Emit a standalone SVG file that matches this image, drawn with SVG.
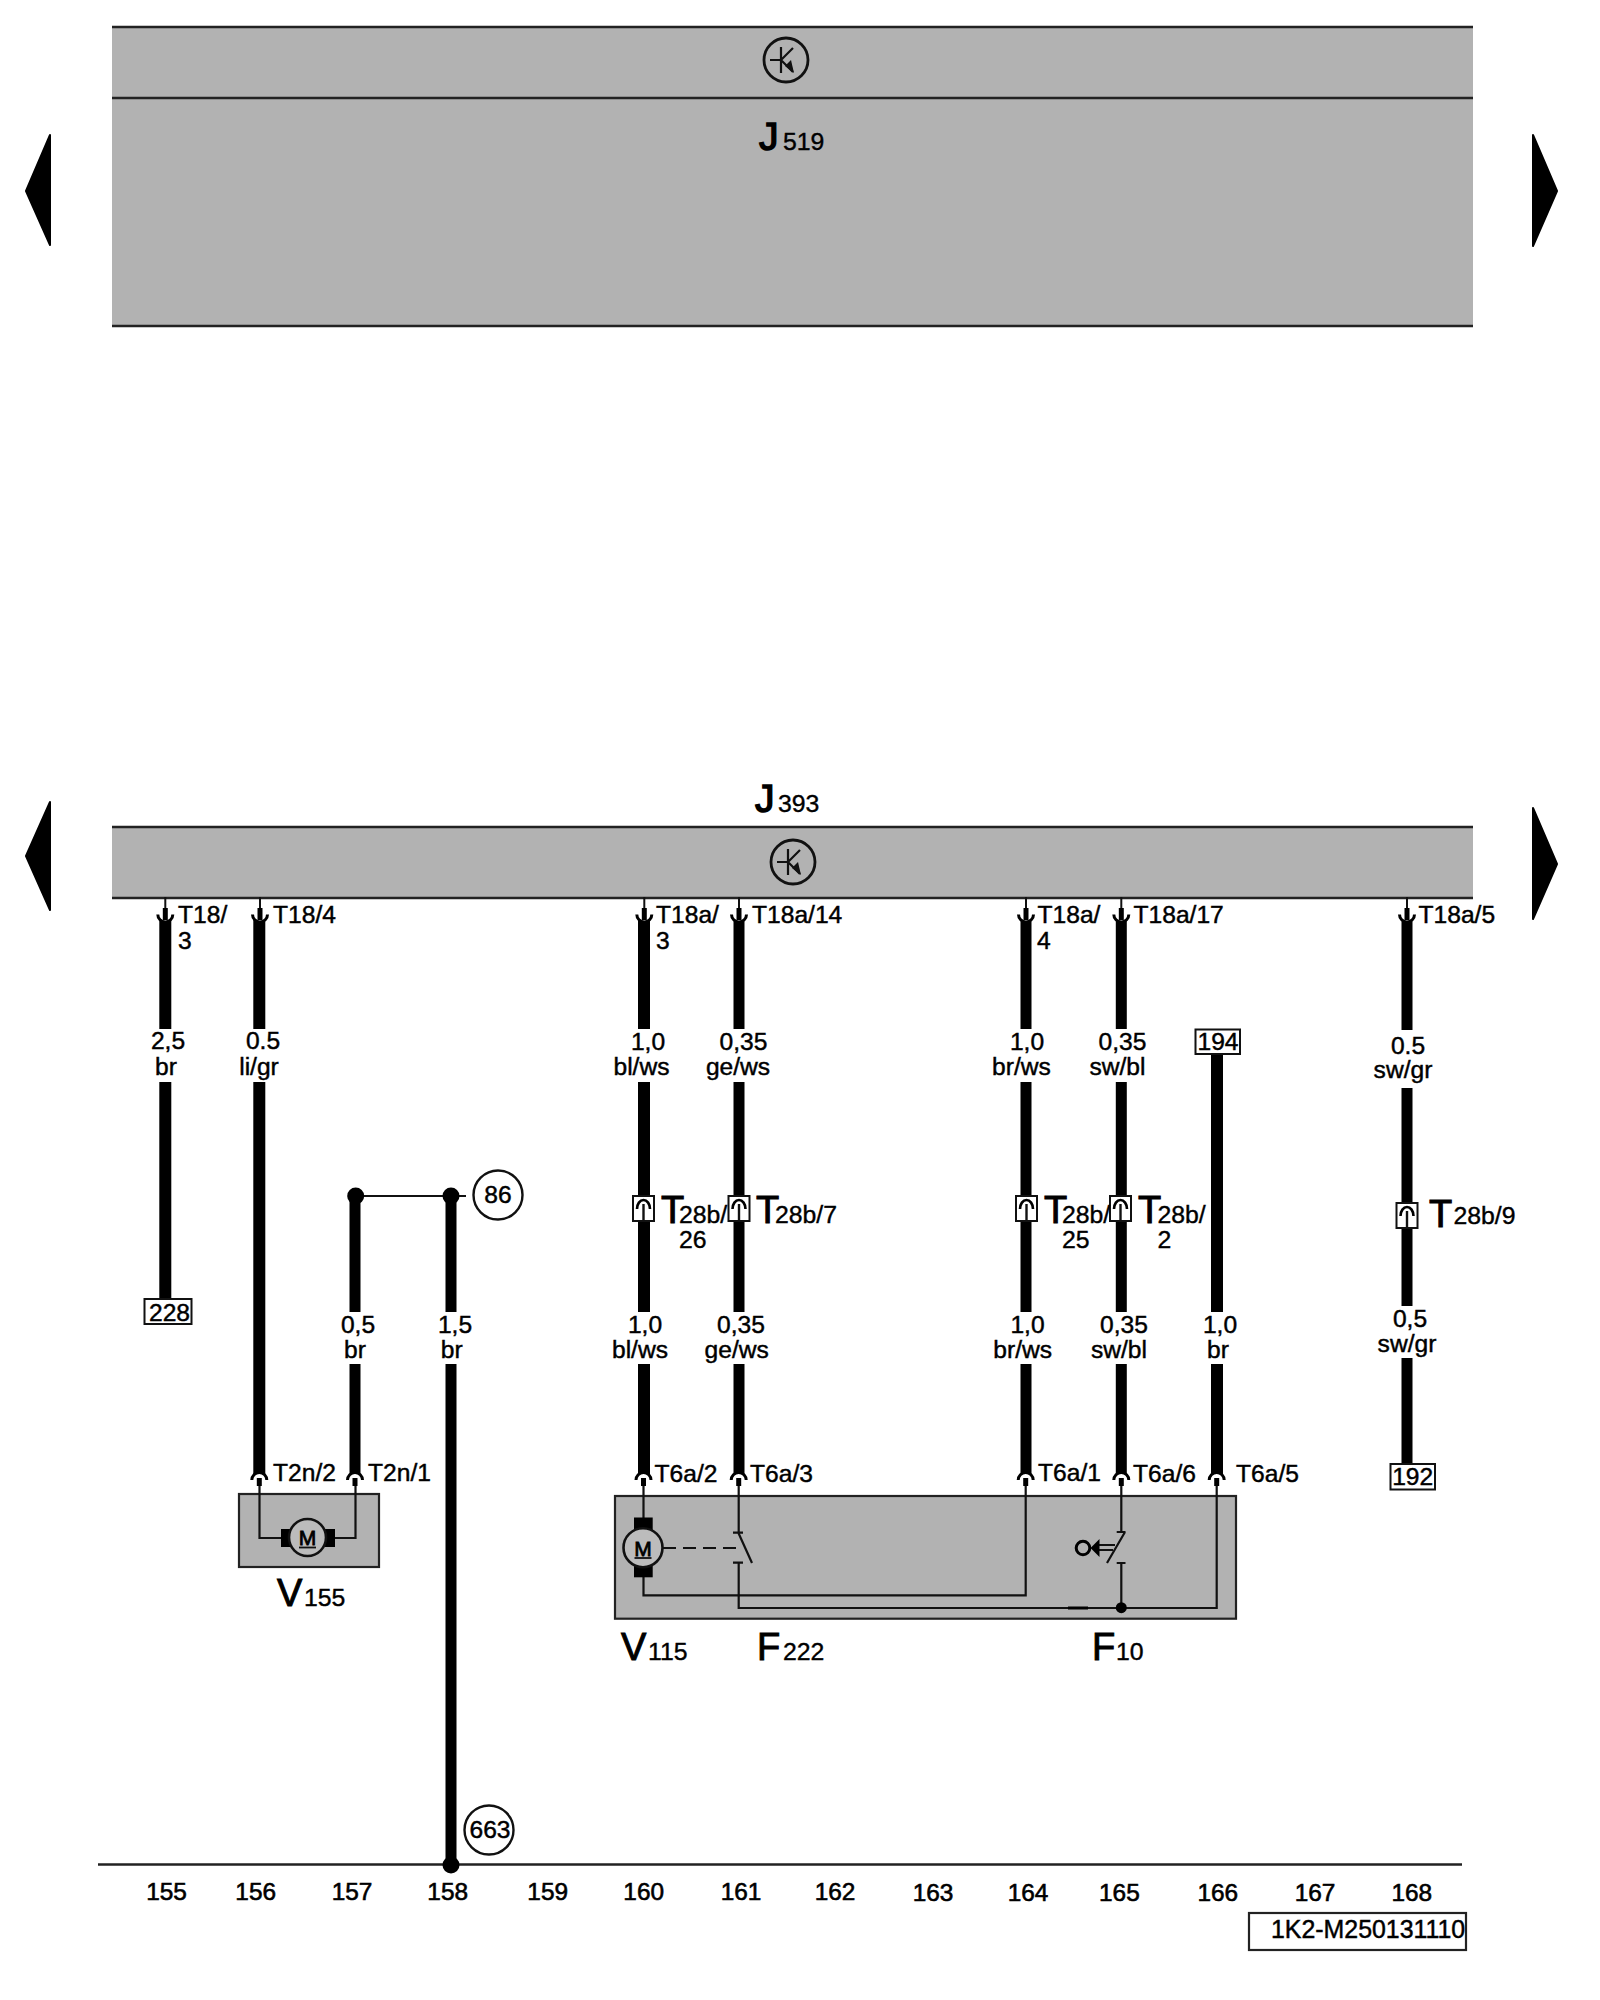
<svg xmlns="http://www.w3.org/2000/svg" width="1600" height="2000" viewBox="0 0 1600 2000">
<style>
text{font-family:"Liberation Sans",Arial,sans-serif;fill:#000;stroke:#000;stroke-width:.45}
.l{font-size:24.6px}
.b{font-size:38px;stroke-width:1}
.j{font-size:39px;stroke-width:1.5}
.s{font-size:24.8px;stroke-width:.4}
.n{font-size:24.4px;stroke-width:.6}
.band{fill:#b2b2b2}
.edge{stroke:#222;stroke-width:2.5;fill:none}
.box{fill:#b2b2b2;stroke:#222;stroke-width:2.2}
.tag{fill:#fff;stroke:#111;stroke-width:2}
.w12{stroke:#000;stroke-width:12;fill:none}
.w11{stroke:#000;stroke-width:11;fill:none}
.thin{stroke:#111;stroke-width:2.2;fill:none}
.mot{fill:#bcbcbc;stroke:#111;stroke-width:2.6}
.tri{fill:#000;stroke:#000;stroke-width:2;stroke-linejoin:round}
</style>
<defs>
<g id="tr">
<circle r="22" fill="none" stroke="#111" stroke-width="2.8"/>
<path d="M-16 0H-5M-5-13V13M-5 0L7-12M-5 0L7 12" fill="none" stroke="#111" stroke-width="2.2"/>
<path d="M8 13L-1 6L5 0Z" fill="#111"/>
</g>
<g id="pt">
<path d="M-7.500-3.500A7.500 7.500 0 0 0 7.500-3.500" fill="#fff" stroke="#000" stroke-width="3"/>
<path d="M0-21V-10" stroke="#111" stroke-width="2"/>
<path d="M0-10V2" stroke="#000" stroke-width="5"/>
</g>
<g id="pb">
<path d="M-7.500 6A7.500 7.500 0 0 1 7.500 6" fill="#fff" stroke="#000" stroke-width="3"/>
<path d="M0 4V12" stroke="#000" stroke-width="5"/>
</g>
<g id="cn">
<rect x="-10.500" y="0" width="21" height="25" fill="#fff" stroke="#111" stroke-width="2"/>
<path d="M-6.500 13A6.500 9 0 0 1 6.500 13" fill="none" stroke="#000" stroke-width="2.600"/>
<path d="M0 8V25" stroke="#111" stroke-width="2.400"/>
</g>
</defs>
<rect width="1600" height="2000" fill="#fff"/>

<g id="J519">
<rect class="band" x="112" y="27" width="1361" height="299"/>
<path class="edge" d="M112 27H1473M112 98H1473M112 326H1473"/>
<use href="#tr" x="786" y="60"/>
<text class="j" x="759" y="150">J</text><text class="s" x="783" y="150">519</text>
</g>
<g id="J393">
<rect class="band" x="112" y="827" width="1361" height="71"/>
<path class="edge" d="M112 827H1473M112 898H1473"/>
<use href="#tr" x="793" y="862"/>
<text class="j" x="755" y="812">J</text><text class="s" x="778" y="812">393</text>
</g>
<g id="page-arrows">
<polygon class="tri" points="50,135 26,191 50,245"/>
<polygon class="tri" points="50,802 26,856 50,910"/>
<polygon class="tri" points="1533,135 1557,191 1533,246"/>
<polygon class="tri" points="1533,808 1557,864 1533,919"/>
</g>

<g id="connectors">
<path class="w12" d="M165.300 918V1029M165.300 1082V1299"/>
<path class="w12" d="M259.300 918V1029M259.300 1082V1476"/>
<path class="w11" d="M355 1196V1312M355 1364V1476"/>
<path class="w11" d="M451 1196V1312M451 1364V1864"/>
<path class="w12" d="M644 918V1029M644 1082V1312M644 1364V1476"/>
<path class="w11" d="M739 918V1029M739 1082V1312M739 1364V1476"/>
<path class="w11" d="M1026 918V1029M1026 1082V1312M1026 1364V1476"/>
<path class="w11" d="M1121.300 918V1029M1121.300 1082V1312M1121.300 1364V1476"/>
<path class="w12" d="M1217 1054V1312M1217 1364V1476"/>
<path class="w11" d="M1407 918V1030M1407 1088V1306M1407 1358V1464"/>
<path class="thin" d="M355.500 1196H466"/>
<path class="edge" d="M98 1864.500H1462"/>
<circle cx="355.700" cy="1196" r="8.500"/>
<circle cx="451" cy="1196" r="8.500"/>
<circle cx="451" cy="1865" r="8.500"/>
</g>

<g id="pins-top">
<use href="#pt" x="165.300" y="918"/><use href="#pt" x="260" y="918"/>
<use href="#pt" x="644.300" y="918"/><use href="#pt" x="739" y="918"/>
<use href="#pt" x="1026" y="918"/><use href="#pt" x="1121.300" y="918"/><use href="#pt" x="1407" y="918"/>
</g>

<g id="V155">
<rect class="box" x="239" y="1494" width="140" height="73"/>
<path class="thin" d="M259.500 1484V1538H282M332 1538H355.500V1484"/>
<rect x="281" y="1529" width="10" height="18"/><rect x="325" y="1529" width="10" height="18"/>
<circle class="mot" cx="307.500" cy="1537.500" r="18.500"/>
<text x="307.500" y="1545" font-size="21" text-anchor="middle" style="stroke-width:.8">M</text>
<path d="M299 1547.500H316" stroke="#111" stroke-width="1.800"/>
<text class="b" x="277" y="1606">V</text><text class="s" x="304" y="1606">155</text>
</g>

<g id="module">
<rect class="box" x="615" y="1496" width="621" height="122.700"/>
<path class="thin" d="M643.500 1484V1518M643.500 1577V1595.300H1025.700V1484"/>
<path class="thin" d="M738.700 1484V1532.700M733 1532.700H743M738 1532L752 1563M733 1562.700H743M738.700 1563V1608H1216.700V1484"/>
<path class="thin" d="M663 1548H743" stroke-dasharray="13 7"/>
<rect x="634" y="1517.500" width="18.700" height="13"/><rect x="634" y="1564.500" width="18.700" height="12.800"/>
<circle class="mot" cx="643" cy="1547.700" r="19.500"/>
<text x="643" y="1555.500" font-size="21" text-anchor="middle" style="stroke-width:.8">M</text>
<path d="M634.500 1558H651.500" stroke="#111" stroke-width="1.800"/>
<path class="thin" d="M1121.300 1484V1532M1116.700 1532H1125.500M1125 1532L1107 1563M1116.700 1563H1125.500M1121.300 1563V1608"/>
<path d="M1097 1545H1115M1097 1550H1113" stroke="#111" stroke-width="2.200"/>
<polygon points="1090.500,1548 1099.500,1539 1099.500,1557" fill="#000"/>
<circle cx="1083" cy="1548" r="6.800" fill="none" stroke="#000" stroke-width="3"/>
<path d="M1068 1608H1088" stroke="#000" stroke-width="3"/>
<circle cx="1121.300" cy="1607.700" r="5.500"/>
<text class="b" x="621" y="1660">V</text><text class="s" x="648" y="1660">115</text>
<text class="b" x="757" y="1660">F</text><text class="s" x="783" y="1660">222</text>
<text class="b" x="1092" y="1660">F</text><text class="s" x="1116" y="1660">10</text>
</g>

<g id="pins-bottom">
<use href="#pb" x="259.300" y="1474"/><use href="#pb" x="355" y="1474"/>
<use href="#pb" x="643.500" y="1474"/><use href="#pb" x="738.700" y="1474"/>
<use href="#pb" x="1025.700" y="1474"/><use href="#pb" x="1121.300" y="1474"/><use href="#pb" x="1216.700" y="1474"/>
</g>

<g id="T28b">
<use href="#cn" x="643.500" y="1196"/><use href="#cn" x="739" y="1196"/><use href="#cn" x="1026.500" y="1196"/><use href="#cn" x="1120.500" y="1196"/><use href="#cn" x="1407" y="1203"/>
<text class="b" x="661" y="1223">T</text><text class="s" x="679" y="1222.500">28b/</text><text class="s" x="679" y="1248">26</text>
<text class="b" x="756" y="1223">T</text><text class="s" x="775" y="1222.500">28b/7</text>
<text class="b" x="1044" y="1223">T</text><text class="s" x="1062" y="1222.500">28b/</text><text class="s" x="1062" y="1248">25</text>
<text class="b" x="1138" y="1223">T</text><text class="s" x="1157.500" y="1222.500">28b/</text><text class="s" x="1157.500" y="1248">2</text>
<text class="b" x="1429" y="1227">T</text><text class="s" x="1453.500" y="1223.500">28b/9</text>
</g>

<g id="pin-labels">
<text class="l" x="178" y="923">T18/</text><text class="l" x="178" y="949">3</text>
<text class="l" x="273" y="923">T18/4</text>
<text class="l" x="656" y="923">T18a/</text><text class="l" x="656" y="948.500">3</text>
<text class="l" x="752" y="923">T18a/14</text>
<text class="l" x="1037.500" y="923">T18a/</text><text class="l" x="1037" y="948.500">4</text>
<text class="l" x="1133.500" y="923">T18a/17</text>
<text class="l" x="1418.500" y="923">T18a/5</text>
<text class="l" x="273" y="1481">T2n/2</text><text class="l" x="368" y="1481">T2n/1</text>
<text class="l" x="654.500" y="1481.500">T6a/2</text><text class="l" x="750" y="1481.500">T6a/3</text>
<text class="l" x="1038" y="1481">T6a/1</text><text class="l" x="1133" y="1481.500">T6a/6</text><text class="l" x="1236" y="1481.500">T6a/5</text>
</g>

<g id="wire-labels" text-anchor="middle">
<text class="l" x="168" y="1049">2,5</text><text class="l" x="166" y="1075">br</text>
<text class="l" x="263" y="1049">0.5</text><text class="l" x="259" y="1075">li/gr</text>
<text class="l" x="648" y="1050">1,0</text><text class="l" x="641.500" y="1075">bl/ws</text>
<text class="l" x="743.500" y="1050">0,35</text><text class="l" x="738" y="1075">ge/ws</text>
<text class="l" x="1027" y="1050">1,0</text><text class="l" x="1021.500" y="1075">br/ws</text>
<text class="l" x="1122.500" y="1049.500">0,35</text><text class="l" x="1117.500" y="1075">sw/bl</text>
<text class="l" x="1408" y="1054">0.5</text><text class="l" x="1403" y="1078">sw/gr</text>
<text class="l" x="358" y="1332.500">0,5</text><text class="l" x="355" y="1357.500">br</text>
<text class="l" x="455" y="1332.500">1,5</text><text class="l" x="451.700" y="1357.500">br</text>
<text class="l" x="645" y="1332.500">1,0</text><text class="l" x="640" y="1357.500">bl/ws</text>
<text class="l" x="741" y="1332.500">0,35</text><text class="l" x="736.700" y="1357.500">ge/ws</text>
<text class="l" x="1027.500" y="1332.500">1,0</text><text class="l" x="1022.700" y="1357.500">br/ws</text>
<text class="l" x="1124" y="1332.500">0,35</text><text class="l" x="1119" y="1358">sw/bl</text>
<text class="l" x="1220" y="1332.500">1,0</text><text class="l" x="1218" y="1358">br</text>
<text class="l" x="1410" y="1327">0,5</text><text class="l" x="1407" y="1351.500">sw/gr</text>
</g>

<g id="ref-228"><rect class="tag" x="144.500" y="1299" width="47" height="25"/><text class="l" x="169.500" y="1320.500" text-anchor="middle">228</text></g>
<g id="ref-194"><rect class="tag" x="1195.500" y="1029.500" width="44.500" height="24.500"/><text class="l" x="1218" y="1050" text-anchor="middle">194</text></g>
<g id="ref-192"><rect class="tag" x="1390.500" y="1464" width="44.500" height="25.500"/><text class="l" x="1412.700" y="1484.500" text-anchor="middle">192</text></g>
<g id="ref-86"><circle cx="498" cy="1195" r="24.500" fill="#fff" stroke="#111" stroke-width="2.400"/><text class="l" x="498" y="1203" text-anchor="middle">86</text></g>
<g id="ref-663"><circle cx="489" cy="1830" r="24.500" fill="#fff" stroke="#111" stroke-width="2.400"/><text class="l" x="490" y="1838" text-anchor="middle">663</text></g>

<g id="grid-numbers" text-anchor="middle">
<text class="n" x="166.500" y="1900">155</text><text class="n" x="255.700" y="1900">156</text><text class="n" x="352" y="1900">157</text><text class="n" x="447.700" y="1900">158</text><text class="n" x="547.700" y="1900">159</text><text class="n" x="643.700" y="1900">160</text><text class="n" x="741" y="1900">161</text><text class="n" x="835" y="1900">162</text><text class="n" x="933" y="1901">163</text><text class="n" x="1028" y="1901">164</text><text class="n" x="1119.400" y="1901">165</text><text class="n" x="1217.800" y="1901">166</text><text class="n" x="1315" y="1901">167</text><text class="n" x="1411.800" y="1901">168</text>
</g>
<g id="title-box"><rect x="1249" y="1913" width="217" height="37" fill="#fff" stroke="#222" stroke-width="2.200"/><text x="1271" y="1938" font-size="24.900">1K2-M250131110</text></g>
</svg>
